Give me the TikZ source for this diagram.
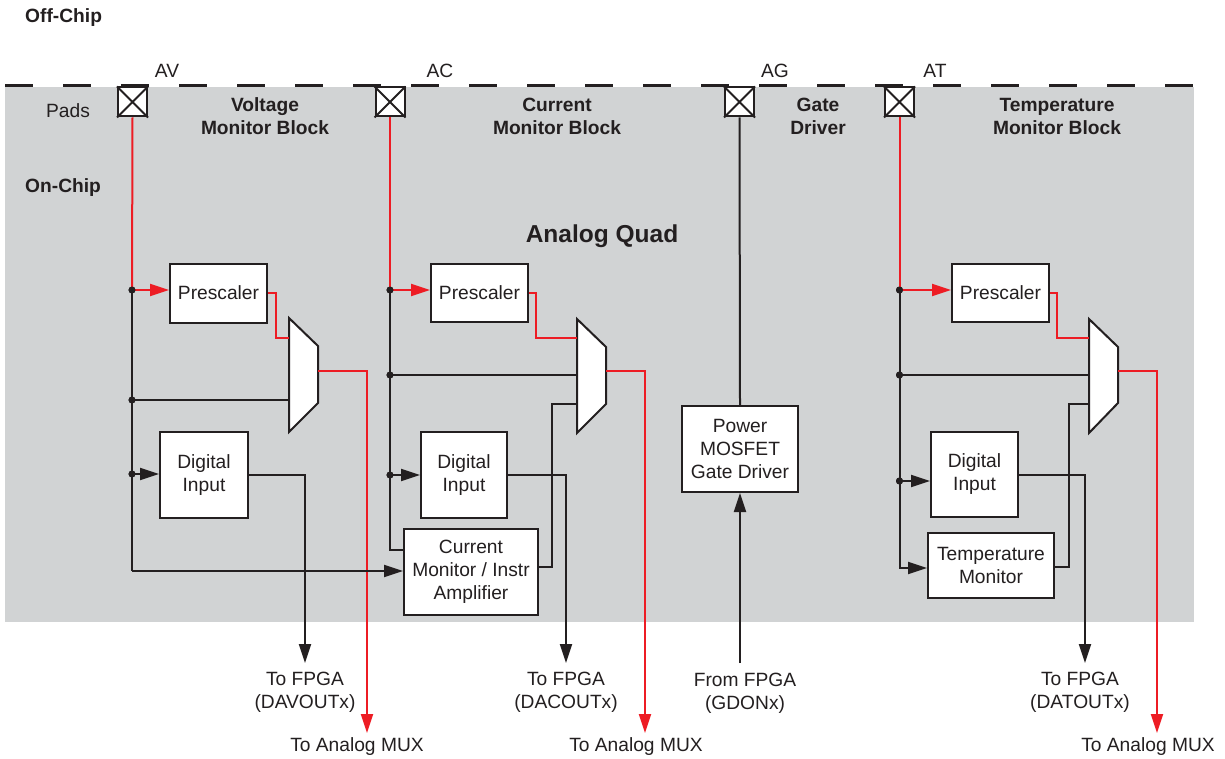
\documentclass[tikz,border=0pt]{standalone}
\usepackage{fontspec}
\setmainfont{Liberation Sans}
\usetikzlibrary{arrows.meta}
\definecolor{chipgrey}{RGB}{209,211,212}
\definecolor{ink}{RGB}{35,31,32}
\definecolor{sig}{RGB}{237,28,36}
\begin{document}
\begin{tikzpicture}[x=1pt,y=-1pt,
  font=\fontsize{19.2}{23}\selectfont,
  txt/.style={text=ink, inner sep=0pt, align=center},
  bold/.style={txt, font=\fontsize{19.2}{23}\selectfont\bfseries},
  box/.style={draw=ink, line width=2pt, fill=white, inner sep=0pt, txt},
  wire/.style={draw=ink, line width=2pt},
  rwire/.style={draw=sig, line width=2pt},
  arr/.style={-{Triangle[length=19pt,width=12pt]}},
  dot/.style={circle, fill=ink, inner sep=0pt, minimum size=7pt},
  pad/.style={draw=ink, line width=2pt, fill=white, minimum size=29pt, inner sep=0pt},
  muxshape/.style={draw=ink, line width=2pt, fill=white, line join=miter},
  ]
\useasboundingbox (0,0) rectangle (1225,759);
% chip area
\fill[chipgrey] (5,87) rectangle (1194,622);
\draw[ink, line width=3pt, dash pattern=on 28pt off 30pt] (5,86) -- (1195,86);

% headings
\node[bold, anchor=west] (offchip) at (25,18) {Off-Chip};
\node[bold, anchor=west] (onchip) at (25,188) {On-Chip};
\node[txt] (padslbl) at (68,111) {Pads};
\node[txt] (lav) at (167,71) {AV};
\node[txt] (lac) at (440,71) {AC};
\node[txt] (lag) at (775,71) {AG};
\node[txt] (lat) at (935,71) {AT};
\node[bold] (hv) at (265,116.5) {Voltage\\Monitor Block};
\node[bold] (hc) at (557,116.5) {Current\\Monitor Block};
\node[bold] (hg) at (818,116.5) {Gate\\Driver};
\node[bold] (ht) at (1057,116.5) {Temperature\\Monitor Block};
\node[txt, font=\fontsize{24.5}{28}\selectfont\bfseries] (aq) at (602,236) {Analog Quad};

% pads
\foreach \n/\x in {padv/132.5, padc/390, padg/739.5, padt/899.5}{
  \node[pad] (\n) at (\x,102) {};
  \draw[ink, line width=2pt] (\n.north west) -- (\n.south east) (\n.north east) -- (\n.south west);
}

% ---------- Voltage monitor block ----------
\node[box, minimum width=97pt, minimum height=59pt] (pv) at (218.5,293) {Prescaler};
\node[box, minimum width=88pt, minimum height=86pt] (dv) at (204,475) {Digital\\Input};
\path[muxshape] (289,318) -- (318,346) -- (318,403) -- (289,432) -- cycle;
\coordinate (mv1) at (289,338);
\coordinate (mv2) at (289,400);
\coordinate (mvo) at (318,371);
\node[dot] (jv1) at (132,290) {};
\node[dot] (jv2) at (132,400) {};
\node[dot] (jv3) at (132,474) {};
\coordinate (cv) at (132,571);

% ---------- Current monitor block ----------
\node[box, minimum width=97pt, minimum height=58pt] (pc) at (479.5,293) {Prescaler};
\node[box, minimum width=86pt, minimum height=86pt] (dc) at (464,475) {Digital\\Input};
\node[box, minimum width=134pt, minimum height=86pt] (cm) at (471,572) {Current\\Monitor / Instr\\Amplifier};
\path[muxshape] (577,319) -- (606,347) -- (606,404) -- (577,433) -- cycle;
\coordinate (mc1) at (577,338);
\coordinate (mc2) at (577,375);
\coordinate (mc3) at (577,404);
\coordinate (mco) at (606,371);
\node[dot] (jc1) at (390,290) {};
\node[dot] (jc2) at (390,375) {};
\node[dot] (jc3) at (390,475) {};

% ---------- Gate driver ----------
\node[box, minimum width=116pt, minimum height=86pt] (gd) at (740,449) {Power\\MOSFET\\Gate Driver};
\node[txt] (fg) at (745,693) {From FPGA\\(GDONx)};
\coordinate (fgs) at (740,663);

% ---------- Temperature monitor block ----------
\node[box, minimum width=97pt, minimum height=58pt] (pt) at (1000.5,293) {Prescaler};
\node[box, minimum width=87pt, minimum height=85pt] (dt) at (974.5,474.5) {Digital\\Input};
\node[box, minimum width=126pt, minimum height=65pt] (tm) at (991,565.5) {Temperature\\Monitor};
\path[muxshape] (1089,319) -- (1118,347) -- (1118,403) -- (1089,433) -- cycle;
\coordinate (mt1) at (1089,338);
\coordinate (mt2) at (1089,375);
\coordinate (mt3) at (1089,404);
\coordinate (mto) at (1118,371);
\node[dot] (jt1) at (899.5,290) {};
\node[dot] (jt2) at (899.5,375) {};
\node[dot] (jt3) at (899.5,481) {};

% bottom labels
\node[txt] (fpv) at (305,692) {To FPGA\\(DAVOUTx)};
\node[txt] (fpc) at (566,692) {To FPGA\\(DACOUTx)};
\node[txt] (fpt) at (1080,692) {To FPGA\\(DATOUTx)};
\node[txt] (amv) at (357,747) {To Analog MUX};
\node[txt] (amc) at (636,747) {To Analog MUX};
\node[txt] (amt) at (1148,747) {To Analog MUX};
\coordinate (fpvt) at (305,663);
\coordinate (fpct) at (566,663);
\coordinate (fptt) at (1085,663);
\coordinate (amvt) at (367,733);
\coordinate (amct) at (645,733);
\coordinate (amtt) at (1157,733);

% ---------- wires: voltage ----------
\draw[rwire] (padv.south) -- (jv1.center);
\draw[rwire, arr] (jv1.center) -- (pv.west |- jv1);
\draw[wire] (jv1.center) -- (cv);
\draw[wire] (jv2.center) -- (mv2);
\draw[wire, arr] (jv3.center) -- (dv.west |- jv3);
\draw[rwire] (pv.east) -- (276,293) |- (mv1);
\draw[wire, arr] (dv.east) -| (fpvt);
\draw[rwire, arr] (mvo) -| (amvt);
\draw[wire, arr] (cv) -- (cm.west |- cv);

% ---------- wires: current ----------
\draw[rwire] (padc.south) -- (jc1.center);
\draw[rwire, arr] (jc1.center) -- (pc.west |- jc1);
\draw[wire] (jc1.center) |- (cm.west |- 0,550);
\draw[wire] (jc2.center) -- (mc2);
\draw[wire, arr] (jc3.center) -- (dc.west |- jc3);
\draw[rwire] (pc.east) -- (536,293) |- (mc1);
\draw[wire] (cm.east |- 0,567) -- (552,567) |- (mc3);
\draw[wire, arr] (dc.east) -| (fpct);
\draw[rwire, arr] (mco) -| (amct);

% ---------- wires: gate ----------
\draw[wire] (padg.south) -- (gd.north);
\draw[wire, arr] (fgs) -- (gd.south);

% ---------- wires: temperature ----------
\draw[rwire] (padt.south) -- (jt1.center);
\draw[rwire, arr] (jt1.center) -- (pt.west |- jt1);
\draw[wire, arr] (jt1.center) |- (tm.west |- 0,568);
\draw[wire] (jt2.center) -- (mt2);
\draw[wire, arr] (jt3.center) -- (dt.west |- jt3);
\draw[rwire] (pt.east) -- (1057,293) |- (mt1);
\draw[wire] (tm.east |- 0,567) -- (1069,567) |- (mt3);
\draw[wire, arr] (dt.east) -| (fptt);
\draw[rwire, arr] (mto) -| (amtt);

% redraw dots on top
\foreach \d in {jv1,jv2,jv3,jc1,jc2,jc3,jt1,jt2,jt3}{\fill[ink] (\d) circle (3.5pt);}
\end{tikzpicture}
\end{document}
